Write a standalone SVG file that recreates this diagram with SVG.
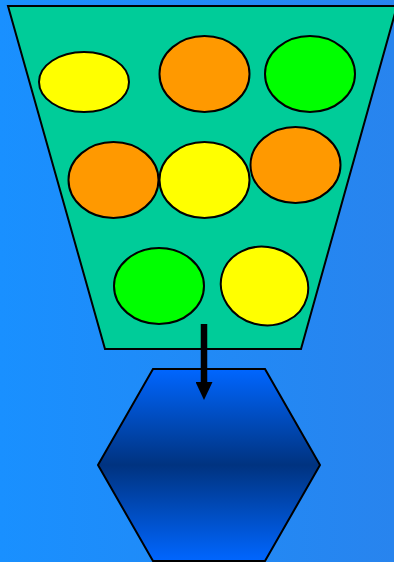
<svg xmlns="http://www.w3.org/2000/svg" width="394" height="562" viewBox="0 0 394 562">
<defs>
<linearGradient id="bg" x1="0" y1="0" x2="1" y2="0">
<stop offset="0" stop-color="#1990ff"/>
<stop offset="1" stop-color="#2884ee"/>
</linearGradient>
<linearGradient id="hex" x1="0" y1="0" x2="0" y2="1">
<stop offset="0" stop-color="#0066ff"/>
<stop offset="0.5" stop-color="#003380"/>
<stop offset="1" stop-color="#0066ff"/>
</linearGradient>
<marker id="ah" markerWidth="18" markerHeight="17" refX="0" refY="8.5" orient="auto" markerUnits="userSpaceOnUse" viewBox="0 0 18 17">
<path d="M0,0 L18,8.5 L0,17 Z" fill="#000"/>
</marker>
<style>
.s{stroke:#000;stroke-width:2}
.y{fill:#ffff00}.o{fill:#ff9900}.g{fill:#00ff00}
</style>
</defs>
<rect width="394" height="562" fill="url(#bg)"/>
<g id="funnel">
<polygon class="s" fill="#00cc99" points="8,6 397,6 301,349 105,349"/>
</g>
<g id="balls">
<ellipse id="b1" class="s y" cx="84" cy="82" rx="45" ry="30"/>
<ellipse id="b2" class="s o" cx="204.5" cy="74" rx="45" ry="38"/>
<ellipse id="b3" class="s g" cx="310" cy="74" rx="45" ry="38"/>
<ellipse id="b4" class="s o" cx="113.5" cy="180" rx="45" ry="38"/>
<ellipse id="b5" class="s y" cx="204.5" cy="180" rx="45" ry="38"/>
<ellipse id="b6" class="s o" cx="295.5" cy="165" rx="45" ry="38"/>
<ellipse id="b7" class="s g" cx="159" cy="286" rx="45" ry="38"/>
<ellipse id="b8" class="s y" cx="264.5" cy="286" rx="44" ry="39" transform="rotate(15 264.5 286)"/>
</g>
<g id="processor">
<polygon class="s" fill="url(#hex)" points="153,369 265,369 320,465 265,561 153,561 98,465"/>
</g>
<g id="connectors">
<line x1="204" y1="324" x2="204" y2="382" stroke="#000" stroke-width="6.5" marker-end="url(#ah)"/>
</g>
</svg>
